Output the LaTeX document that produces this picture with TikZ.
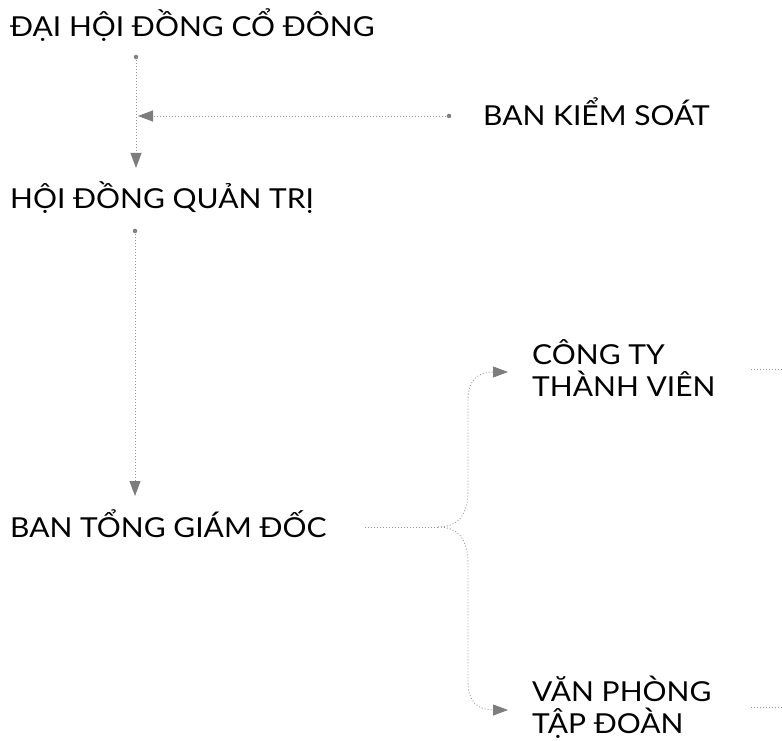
\documentclass[tikz,border=0pt]{standalone}
\usepackage{fontspec}
\setmainfont[FakeStretch=1.09]{Lato}
\usetikzlibrary{arrows.meta}
\definecolor{linegray}{RGB}{150,150,150}
\definecolor{headgray}{RGB}{125,125,125}
\begin{document}
\begin{tikzpicture}[x=1pt,y=1pt,
  lbl/.style={inner sep=0pt, anchor=base west, font=\fontsize{27.5}{32}\selectfont, text=black},
  conn/.style={draw=linegray, line width=0.9pt, dash pattern=on 0.9pt off 2.1pt,
    -{Triangle[length=15pt,width=11pt,color=headgray,fill=headgray]}},
  plain/.style={draw=linegray, line width=0.9pt, dash pattern=on 0.9pt off 2.1pt},
  startdot/.style={circle, fill=headgray, inner sep=0pt, minimum size=4.5pt}
]
\useasboundingbox[fill=white] (0,0) rectangle (782,740);
% texts
\node[lbl] (dhd) at (10,703) {ĐẠI HỘI ĐỒNG CỔ ĐÔNG};
\node[lbl] (bks) at (483,614) {BAN KIỂM SOÁT};
\node[lbl] (hdqt) at (10,531) {HỘI ĐỒNG QUẢN TRỊ};
\node[lbl] (btgd) at (10,203) {BAN TỔNG GIÁM ĐỐC};
\node[lbl, align=left] (cttv) at (532,343) {CÔNG TY\\THÀNH VIÊN};
\node[lbl, align=left] (vptd) at (532,7) {VĂN PHÒNG\\TẬP ĐOÀN};
% points
\node[startdot] (s1) at (136,683) {};
\coordinate (t1) at (136,572);
\node[startdot] (s2) at (449,624) {};
\coordinate (t2) at (138,624);
\node[startdot] (s3) at (135,509) {};
\coordinate (t3) at (135,244);
\coordinate (j0) at (365,213);
\coordinate (j) at (438,213);
\coordinate (a1) at (508,368);
\coordinate (a2) at (508,30);
\coordinate (r1a) at (751,371);
\coordinate (r1b) at (782,371);
\coordinate (r2a) at (751,33);
\coordinate (r2b) at (782,33);
% connectors
\draw[conn] (s1.center) -- (t1);
\draw[conn] (s2.center) -- (t2);
\draw[conn] (s3.center) -- (t3);
\draw[plain] (j0) -- (j);
\draw[conn] (j) .. controls (458,213) and (468,225) .. (468,250) -- (468,340)
  .. controls (468,360) and (478,368) .. (a1);
\draw[conn] (j) .. controls (458,213) and (468,201) .. (468,176) -- (468,58)
  .. controls (468,38) and (478,30) .. (a2);
\draw[plain] (r1a) -- (r1b);
\draw[plain] (r2a) -- (r2b);
\end{tikzpicture}
\end{document}
